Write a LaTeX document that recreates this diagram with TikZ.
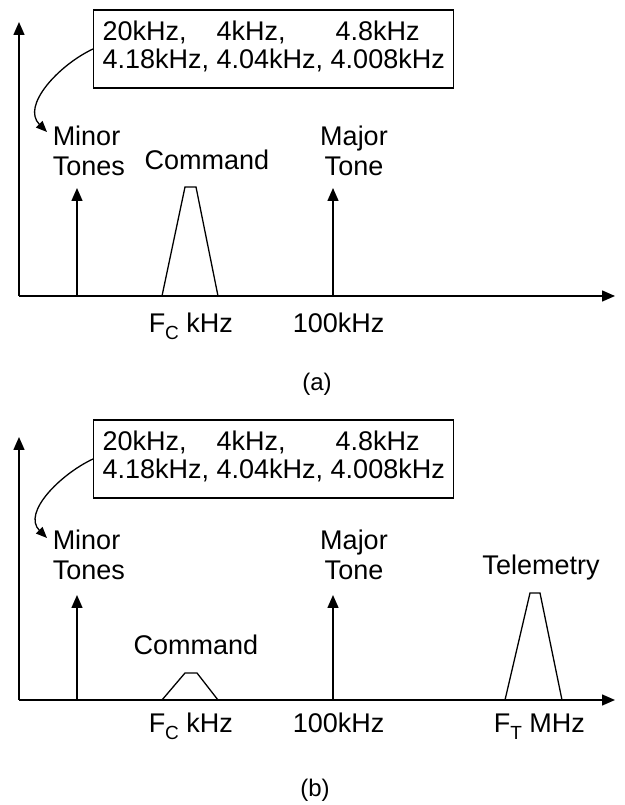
\documentclass[tikz,border=0pt]{standalone}
\usepackage{fontspec}
\setmainfont{Liberation Sans}
\usetikzlibrary{arrows.meta}
\newcommand{\lowsub}[1]{\raisebox{-0.45ex}{\fontsize{19}{19}\selectfont #1}}
\begin{document}
\begin{tikzpicture}[x=1pt, y=1pt, line width=1.5pt, >={Triangle[length=13pt,width=11pt]},
    every node/.style={font=\fontsize{27}{30}\selectfont, inner sep=0pt},
    toneslist/.style={draw, line width=1.3pt, inner xsep=9pt, inner ysep=11pt, anchor=west, font=\fontsize{27}{28}\selectfont},
    pointer/.style={-{Triangle[length=11pt,width=9pt]}, line width=1.3pt},
    band/.style={line width=1.3pt}]
    \useasboundingbox (0,0) rectangle (624,805);

    % (a) command only
    \coordinate (oa) at (19,509);
    \coordinate (ya) at (19,783);
    \coordinate (xa) at (615,509);
    \draw[->] (oa) -- (ya);
    \draw[->] (oa) -- (xa);
    \node[toneslist] (lista) at (93,756) {\begin{tabular}{@{}l@{ }l@{ }l@{}}20kHz, & 4kHz, & \hspace{5pt}4.8kHz\\ 4.18kHz, & 4.04kHz, & 4.008kHz\end{tabular}};
    \node[align=left, anchor=west] (minora) at (52,654) {Minor\\Tones};
    \coordinate (taila) at (47,673);
    \draw[pointer] (lista.west) to[out=205, in=135] (taila);
    \coordinate (mina) at (77,509);
    \coordinate (mintipa) at (77,617);
    \draw[->] (mina) -- (mintipa);
    \node[anchor=base] (cmda) at (207,635) {Command};
    \draw[band] (162,509) -- (185,618) -- (196,618) -- (218,509);
    \node[align=center] (majora) at (354,654) {Major\\Tone};
    \coordinate (maja) at (333,509);
    \coordinate (majtipa) at (333,617);
    \draw[->] (maja) -- (majtipa);
    \node[anchor=base west] (fca) at (148,472) {F\lowsub{C} kHz};
    \node[anchor=base west] (hka) at (292,472) {100kHz};
    \node[font=\fontsize{24}{24}\selectfont] (capa) at (317,421) {(a)};

    % (b) command and telemetry
    \coordinate (ob) at (19,105);
    \coordinate (yb) at (19,368);
    \coordinate (xb) at (615,105);
    \draw[->] (ob) -- (yb);
    \draw[->] (ob) -- (xb);
    \node[toneslist] (listb) at (93,346) {\begin{tabular}{@{}l@{ }l@{ }l@{}}20kHz, & 4kHz, & \hspace{5pt}4.8kHz\\ 4.18kHz, & 4.04kHz, & 4.008kHz\end{tabular}};
    \node[align=left, anchor=west] (minorb) at (52,250) {Minor\\Tones};
    \coordinate (tailb) at (47,267);
    \draw[pointer] (listb.west) to[out=205, in=135] (tailb);
    \coordinate (minb) at (77,105);
    \coordinate (mintipb) at (77,210);
    \draw[->] (minb) -- (mintipb);
    \node[anchor=base] (cmdb) at (196,150) {Command};
    \draw[band] (162,105) -- (185,132) -- (197,132) -- (218,105);
    \node[align=center] (majorb) at (354,250) {Major\\Tone};
    \coordinate (majb) at (333,105);
    \coordinate (majtipb) at (333,210);
    \draw[->] (majb) -- (majtipb);
    \node[anchor=base] (telb) at (541,230) {Telemetry};
    \draw[band] (505,105) -- (530,212) -- (540,212) -- (562,105);
    \node[anchor=base west] (fcb) at (148,72) {F\lowsub{C} kHz};
    \node[anchor=base west] (hkb) at (292,72) {100kHz};
    \node[anchor=base west] (ftb) at (493,72) {F\lowsub{T} MHz};
    \node[font=\fontsize{24}{24}\selectfont] (capb) at (315,15) {(b)};
\end{tikzpicture}
\end{document}
